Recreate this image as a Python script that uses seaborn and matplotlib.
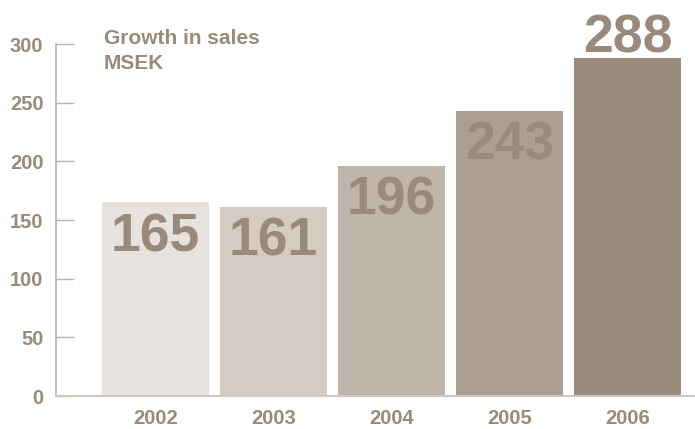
import matplotlib
matplotlib.use("Agg")
import matplotlib.pyplot as plt
import seaborn as sns
import pandas as pd

years = ["2002", "2003", "2004", "2005", "2006"]
sales = [165, 161, 196, 243, 288]
bar_colors = ["#e7e2de", "#d4ccc3", "#c0b5ab", "#ab9f91", "#9a8a7c"]
y_ticks = [0, 50, 100, 150, 200, 250, 300]

text_color = "#9a8a7c"
axis_color = "#bcb3aa"

sns.set_theme(style="white")
plt.rcParams["font.family"] = ["Liberation Sans", "DejaVu Sans"]
plt.rcParams["font.weight"] = "bold"

df = pd.DataFrame({"year": years, "sales": sales})

fig = plt.figure(figsize=(6.95, 4.29), dpi=100)
ax = fig.add_axes([56 / 695, 1 - 396 / 429, 1 - 56 / 695, (396 - 44) / 429])

sns.barplot(data=df, x="year", y="sales", hue="year", palette=bar_colors,
            width=0.907, saturation=1, legend=False, ax=ax, linewidth=0)

ax.set_xlim(-0.843, 4.572)
ax.set_ylim(0, 300)
ax.set_yticks(y_ticks)
ax.set_xlabel("")
ax.set_ylabel("")

for side in ["top", "right"]:
    ax.spines[side].set_visible(False)
ax.spines["left"].set_color(axis_color)
ax.spines["left"].set_linewidth(1.2)
ax.spines["bottom"].set_color("#cfc8c1")
ax.spines["bottom"].set_linewidth(1.5)

ax.tick_params(axis="y", left=True, direction="in", length=13, width=1.0,
               color=axis_color, labelsize=14.5, labelcolor=text_color, pad=9)
ax.tick_params(axis="x", bottom=False, length=0, labelsize=14.5,
               labelcolor=text_color, pad=9.5)
for lab in ax.get_xticklabels() + ax.get_yticklabels():
    lab.set_fontweight("bold")

# value labels: inside the bar near its top, except the tallest which sits above
for i, v in enumerate(sales):
    if v == max(sales):
        ax.annotate(str(v), (i, v), xytext=(0, -4), textcoords="offset points",
                    ha="center", va="bottom", fontsize=38.5, fontweight="bold",
                    color=text_color, annotation_clip=False)
    else:
        ax.annotate(str(v), (i, v), xytext=(0, -7), textcoords="offset points",
                    ha="center", va="top", fontsize=38.5, fontweight="bold",
                    color=text_color)

fig.text(104 / 695, 1 - 29 / 429, "Growth in sales\nMSEK", ha="left", va="top",
         fontsize=15, fontweight="bold", color=text_color, linespacing=1.38)

fig.savefig("out.png", dpi=100)
